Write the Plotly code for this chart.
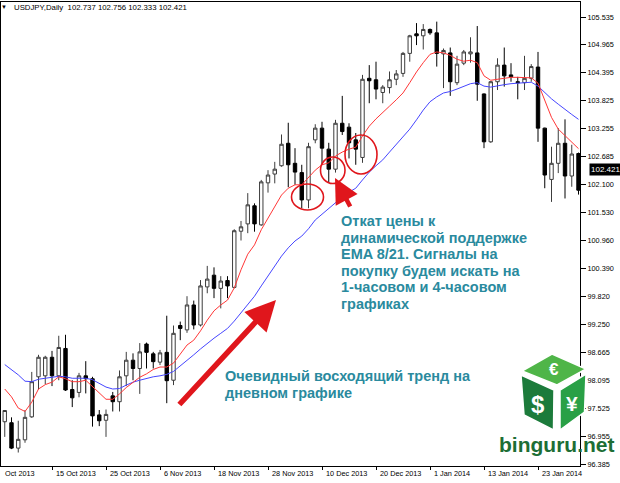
import pandas as pd
import plotly.graph_objects as go

# ---------------- data ----------------
dates = [d.strftime("%Y-%m-%d") for d in pd.bdate_range("2013-10-04", periods=86)]

opens = [97.25, 97.23, 96.71, 96.88, 97.35, 98.17, 98.19, 98.57, 98.19, 98.75,
         97.91, 97.85, 98.19, 98.13, 97.39, 97.28, 97.78, 97.66, 98.19, 98.51,
         98.34, 98.84, 98.64, 98.47, 98.67, 98.10, 99.22, 99.13, 99.64, 99.23,
         100.01, 100.25, 99.98, 100.14, 100.00, 101.15, 101.30, 101.67, 101.28, 102.14,
         102.32, 102.49, 102.95, 102.54, 102.35, 101.79, 103.02, 103.26, 102.83, 102.42,
         103.36, 103.28, 103.02, 102.66, 104.28, 104.25, 103.99, 104.09, 104.26, 104.38,
         104.79, 105.19, 105.15, 105.28, 105.21, 104.78, 104.80, 104.19, 104.59, 104.78,
         104.80, 103.96, 102.98, 104.21, 104.55, 104.35, 104.21, 104.19, 104.28, 104.51,
         103.26, 102.21, 102.54, 102.95, 102.28, 102.74]
highs = [97.49, 97.34, 97.27, 97.49, 98.27, 98.62, 98.60, 98.70, 99.01, 99.03,
         98.10, 98.25, 98.49, 98.17, 97.49, 97.50, 97.86, 98.30, 98.68, 98.65,
         98.86, 98.87, 98.68, 98.72, 99.42, 99.22, 99.30, 99.82, 99.73, 100.15,
         100.44, 100.41, 100.23, 100.23, 101.19, 101.36, 101.93, 101.72, 102.20, 102.40,
         102.57, 103.13, 103.37, 102.85, 102.51, 102.96, 103.34, 103.39, 102.96, 103.43,
         103.92, 103.36, 103.16, 104.35, 104.55, 104.62, 104.14, 104.42, 104.45, 104.82,
         105.17, 105.41, 105.39, 105.30, 105.44, 104.89, 104.91, 104.74, 104.86, 105.12,
         105.35, 103.97, 104.22, 104.69, 104.91, 104.59, 104.31, 104.74, 104.57, 104.82,
         103.27, 102.88, 103.26, 103.44, 102.92, 102.76]
lows = [96.94, 96.69, 96.62, 96.82, 97.33, 97.91, 98.02, 97.98, 98.10, 97.88,
        97.55, 97.75, 97.83, 97.15, 97.16, 96.94, 97.46, 97.46, 97.98, 98.10,
        97.82, 98.34, 98.34, 98.41, 97.63, 98.00, 98.92, 99.07, 99.14, 99.20,
        99.88, 99.78, 99.57, 99.78, 99.98, 100.96, 101.11, 101.14, 101.26, 101.94,
        102.13, 102.47, 102.05, 102.10, 101.62, 101.62, 102.95, 102.51, 102.14, 102.35,
        103.12, 102.64, 102.51, 102.55, 103.77, 103.85, 103.77, 103.97, 104.14, 104.31,
        104.62, 104.96, 104.87, 105.17, 104.52, 104.08, 103.92, 104.14, 104.55, 104.60,
        103.82, 102.85, 102.96, 104.04, 104.11, 104.21, 103.85, 104.04, 104.21, 102.98,
        102.03, 101.75, 102.34, 101.82, 102.06, 101.90]
closes = [97.48, 96.71, 96.89, 97.34, 98.07, 98.57, 98.57, 98.19, 98.77, 97.90,
          97.74, 98.19, 98.13, 97.37, 97.27, 97.40, 97.66, 98.17, 98.51, 98.34,
          98.68, 98.67, 98.48, 98.66, 98.09, 99.06, 99.16, 99.64, 99.23, 100.03,
          100.17, 99.98, 100.13, 100.03, 101.16, 101.24, 101.69, 101.30, 102.16, 102.30,
          102.42, 102.93, 102.51, 102.36, 101.79, 102.88, 103.26, 102.85, 102.42, 103.36,
          103.19, 102.96, 102.83, 104.26, 104.23, 104.06, 104.10, 104.25, 104.37, 104.79,
          105.15, 105.15, 105.28, 105.21, 104.79, 104.85, 104.21, 104.57, 104.82, 104.82,
          104.16, 102.98, 104.21, 104.55, 104.33, 104.31, 104.19, 104.28, 104.52, 103.26,
          102.30, 102.54, 102.95, 102.28, 102.73, 101.99]

ema8 = [97.92, 97.76, 97.53, 97.46, 97.65, 97.92, 98.01, 98.06, 98.17, 98.13,
        98.07, 98.07, 98.10, 97.97, 97.82, 97.71, 97.71, 97.82, 97.95, 98.06,
        98.16, 98.23, 98.32, 98.37, 98.37, 98.45, 98.63, 98.82, 98.92, 99.11,
        99.33, 99.52, 99.64, 99.74, 99.99, 100.36, 100.68, 100.87, 101.18, 101.42,
        101.67, 101.89, 102.03, 102.10, 102.10, 102.24, 102.40, 102.51, 102.55, 102.69,
        102.77, 102.83, 102.87, 103.10, 103.30, 103.45, 103.59, 103.71, 103.84, 103.98,
        104.19, 104.41, 104.60, 104.77, 104.82, 104.80, 104.75, 104.67, 104.63, 104.65,
        104.60, 104.33, 104.24, 104.26, 104.29, 104.30, 104.30, 104.29, 104.29, 104.18,
        103.84, 103.48, 103.24, 103.10, 102.98, 102.84]
ema21 = [98.42, 98.32, 98.21, 98.08, 98.07, 98.12, 98.14, 98.16, 98.18, 98.17,
         98.14, 98.14, 98.14, 98.11, 98.04, 97.96, 97.92, 97.93, 98.00, 98.06,
         98.10, 98.14, 98.17, 98.19, 98.22, 98.28, 98.39, 98.51, 98.62, 98.74,
         98.86, 98.96, 99.06, 99.16, 99.31, 99.48, 99.66, 99.82, 100.03, 100.23,
         100.44, 100.64, 100.81, 100.95, 101.05, 101.20, 101.38, 101.50, 101.61, 101.75,
         101.85, 101.95, 102.03, 102.20, 102.36, 102.49, 102.61, 102.77, 102.92, 103.08,
         103.24, 103.43, 103.63, 103.80, 103.90, 103.98, 104.01, 104.06, 104.12, 104.17,
         104.19, 104.12, 104.10, 104.13, 104.15, 104.17, 104.18, 104.18, 104.20, 104.12,
         103.98, 103.86, 103.75, 103.64, 103.54, 103.44]

x_tick_idx = [7, 15, 23, 31, 39, 47, 55, 63, 71, 79]
x_tick_labels = ["15 Oct 2013", "25 Oct 2013", "6 Nov 2013", "18 Nov 2013", "28 Nov 2013",
                 "10 Dec 2013", "20 Dec 2013", "1 Jan 2014", "13 Jan 2014", "23 Jan 2014"]
y_ticks = [105.535, 104.965, 104.395, 103.825, 103.255, 102.685, 102.100, 101.530, 100.960,
           100.390, 99.820, 99.250, 98.665, 98.095, 97.525, 96.955, 96.385]
last_price = 102.421
title_text = "USDJPY,Daily\u00a0 102.737 102.756 102.333 102.421"
note1_lines = ["Откат цены к", "динамической поддержке", "EMA 8/21. Сигналы на",
               "покупку будем искать на", "1-часовом и 4-часовом", "графиках"]
note2_lines = ["Очевидный восходящий тренд на", "дневном графике"]

# ---------------- layout helpers (pixel -> paper) ----------------
W, H = 620, 483
ML, MR, MT, MB = 1, 40, 2, 17
PW, PH = W - ML - MR, H - MT - MB


def PX(x):
    return (x - ML) / PW


def PY(y):
    return (H - MB - y) / PH


AXFONT = dict(family="Liberation Sans, Arial, sans-serif", size=7.3, color="#000000")
RED = "#e0161c"
TEAL = "#2a8a9e"

fig = go.Figure()
fig.add_trace(go.Candlestick(
    x=dates, open=opens, high=highs, low=lows, close=closes,
    increasing=dict(line=dict(color="#3c3c3c", width=1), fillcolor="#ffffff"),
    decreasing=dict(line=dict(color="#000000", width=1), fillcolor="#000000"),
    whiskerwidth=0, showlegend=False, hoverinfo="skip",
))
fig.add_trace(go.Scatter(x=dates, y=ema21, mode="lines",
                         line=dict(color="rgb(70,70,255)", width=1),
                         showlegend=False, hoverinfo="skip"))
fig.add_trace(go.Scatter(x=dates, y=ema8, mode="lines",
                         line=dict(color="rgb(255,55,55)", width=1),
                         showlegend=False, hoverinfo="skip"))

ann = []
# title
ann.append(dict(text="▼", x=PX(4), y=PY(7), xref="paper", yref="paper", showarrow=False,
                xanchor="center", yanchor="middle", font=dict(size=6, color="#000")))
ann.append(dict(text=title_text, x=PX(12), y=PY(7), xref="paper", yref="paper",
                showarrow=False, xanchor="left", yanchor="middle",
                font=dict(family=AXFONT["family"], size=7.8, color="#000")))
# x labels (left-aligned after tick, MT4 style)
ann.append(dict(text="Oct 2013", x=PX(3), y=PY(473), xref="paper", yref="paper",
                showarrow=False, xanchor="left", yanchor="middle", font=AXFONT))
for i, lab in zip(x_tick_idx, x_tick_labels):
    ann.append(dict(text=lab, x=i, y=PY(473), xref="x", yref="paper", xshift=2,
                    showarrow=False, xanchor="left", yanchor="middle", font=AXFONT))
# current price label
ann.append(dict(text=f"{last_price:.3f}", x=1, y=last_price, xref="paper", yref="y",
                xshift=9, showarrow=False, xanchor="left", yanchor="middle",
                bgcolor="#000000", borderpad=1,
                font=dict(family=AXFONT["family"], size=8, color="#ffffff")))
# arrows
ann.append(dict(x=PX(276), y=PY(300), xref="paper", yref="paper", ax=-98, ay=106,
                axref="pixel", ayref="pixel", text="", showarrow=True,
                arrowhead=2, arrowsize=1.1, arrowwidth=5.5, arrowcolor=RED))
ann.append(dict(x=PX(335), y=PY(178), xref="paper", yref="paper", ax=16, ay=30,
                text="", showarrow=True, arrowhead=2, arrowsize=1.1, arrowwidth=4.5,
                arrowcolor=RED))
# texts (one annotation per line to keep the tight line spacing)
TF = dict(family="Liberation Sans, Arial, sans-serif", size=14.5, color=TEAL)
for k, line in enumerate(note1_lines):
    ann.append(dict(text=f"<b>{line}</b>", x=PX(339), y=PY(221 + 16.6 * k),
                    xref="paper", yref="paper", showarrow=False,
                    xanchor="left", yanchor="middle", font=TF))
for k, line in enumerate(note2_lines):
    ann.append(dict(text=f"<b>{line}</b>", x=PX(223), y=PY(376 + 17 * k),
                    xref="paper", yref="paper", showarrow=False,
                    xanchor="left", yanchor="middle", font=TF))

shapes = []
# red circles
for (x0, y0, x1, y1) in [(291.5, 184, 323.5, 210), (320.5, 157, 345, 183.5), (345, 135, 377, 174)]:
    shapes.append(dict(type="circle", xref="paper", yref="paper",
                       x0=PX(x0), x1=PX(x1), y0=PY(y1), y1=PY(y0),
                       line=dict(color=RED, width=1.6)))


def poly(pts, color):
    d = "M " + " L ".join(f"{PX(x):.5f},{PY(y):.5f}" for x, y in pts) + " Z"
    return dict(type="path", path=d, xref="paper", yref="paper", fillcolor=color,
                line=dict(color="#ffffff", width=1.5), layer="above")


shapes.append(poly([(552, 354), (586, 369), (557, 385), (522, 371)], "#4fb548"))
shapes.append(poly([(521, 375), (554, 390), (553.5, 430), (524, 415)], "#1c7b3b"))
shapes.append(poly([(560, 390), (586, 374), (584.5, 412), (560, 430)], "#29a046"))

# logo symbols and text (drawn as annotations above the shapes)
ann.append(dict(text="<b>€</b>", x=PX(554), y=PY(369), xref="paper", yref="paper",
                showarrow=False, xanchor="center", yanchor="middle",
                font=dict(family="Liberation Sans, Arial", size=17, color="#ffffff")))
ann.append(dict(text="<b>$</b>", x=PX(538), y=PY(404), xref="paper", yref="paper",
                showarrow=False, xanchor="center", yanchor="middle",
                font=dict(family="Liberation Sans, Arial", size=24, color="#ffffff")))
ann.append(dict(text="<b>¥</b>", x=PX(572), y=PY(403), xref="paper", yref="paper",
                showarrow=False, xanchor="center", yanchor="middle",
                font=dict(family="Liberation Sans, Arial", size=21, color="#ffffff")))
ann.append(dict(text="<b>binguru.net</b>", x=PX(556), y=PY(444), xref="paper", yref="paper",
                showarrow=False, xanchor="center", yanchor="middle",
                font=dict(family="Liberation Sans, Arial", size=21, color="#1d6e35")))

fig.update_layout(
    width=W, height=H, autosize=False,
    margin=dict(l=ML, r=MR, t=MT, b=MB, pad=0),
    paper_bgcolor="#ffffff", plot_bgcolor="#ffffff",
    annotations=ann, shapes=shapes, boxgap=0.28,
    xaxis=dict(type="category", range=[-0.556, 85.22], showgrid=False, zeroline=False,
               showline=True, linecolor="#000", linewidth=1, mirror=True,
               ticks="outside", ticklen=3, tickcolor="#000",
               tickvals=[dates[i] for i in x_tick_idx], showticklabels=False,
               rangeslider=dict(visible=False), fixedrange=True),
    yaxis=dict(side="right", range=[96.344, 105.842], showgrid=False, zeroline=False,
               showline=True, linecolor="#000", linewidth=1, mirror=True,
               ticks="outside", ticklen=5, tickcolor="#000",
               tickvals=y_ticks, ticktext=[f"{v:.3f}" for v in y_ticks],
               tickfont=AXFONT, fixedrange=True),
)

fig.write_html("out.html", config={"displayModeBar": False},
               post_script="document.body.style.margin='0';document.body.style.padding='0';")
